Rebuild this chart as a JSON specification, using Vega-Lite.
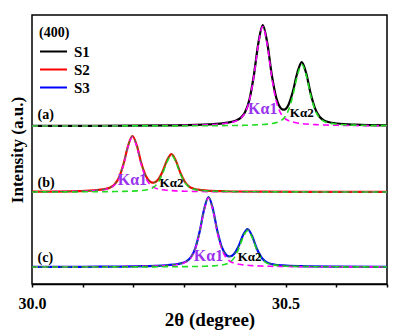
{
  "$schema": "https://vega.github.io/schema/vega-lite/v6.json",
  "width": 355,
  "height": 269,
  "autosize": {"type": "none"},
  "padding": {"left": 32, "top": 15, "right": 14, "bottom": 47},
  "background": "white",
  "config": {
    "view": {"stroke": "black", "strokeWidth": 1.5},
    "font": "Liberation Serif"
  },
  "datasets": {
    "curves": [
      {"x": 30.00, "s": "S1", "t": 158.11, "k1": 158.07, "k2": 158.03},
      {"x": 30.10, "s": "S1", "t": 158.17, "k1": 158.12, "k2": 158.05},
      {"x": 30.20, "s": "S1", "t": 158.32, "k1": 158.23, "k2": 158.09},
      {"x": 30.28, "s": "S1", "t": 158.64, "k1": 158.49, "k2": 158.15},
      {"x": 30.35, "s": "S1", "t": 159.62, "k1": 159.34, "k2": 158.28},
      {"x": 30.385, "s": "S1", "t": 161.35, "k1": 160.92, "k2": 158.43},
      {"x": 30.4025, "s": "S1", "t": 163.62, "k1": 163.07, "k2": 158.55},
      {"x": 30.4113, "s": "S1", "t": 166.14, "k1": 165.50, "k2": 158.63},
      {"x": 30.42, "s": "S1", "t": 171.78, "k1": 171.05, "k2": 158.73},
      {"x": 30.4288, "s": "S1", "t": 184.59, "k1": 183.73, "k2": 158.86},
      {"x": 30.4375, "s": "S1", "t": 208.72, "k1": 207.70, "k2": 159.02},
      {"x": 30.4463, "s": "S1", "t": 240.78, "k1": 239.55, "k2": 159.23},
      {"x": 30.455, "s": "S1", "t": 258.91, "k1": 257.40, "k2": 159.51},
      {"x": 30.4638, "s": "S1", "t": 241.44, "k1": 239.55, "k2": 159.89},
      {"x": 30.4725, "s": "S1", "t": 210.16, "k1": 207.70, "k2": 160.46},
      {"x": 30.4813, "s": "S1", "t": 187.09, "k1": 183.73, "k2": 161.36},
      {"x": 30.49, "s": "S1", "t": 176.17, "k1": 171.05, "k2": 163.12},
      {"x": 30.4935, "s": "S1", "t": 174.59, "k1": 168.25, "k2": 164.34},
      {"x": 30.497, "s": "S1", "t": 174.35, "k1": 166.27, "k2": 166.08},
      {"x": 30.5058, "s": "S1", "t": 179.35, "k1": 163.43, "k2": 173.92},
      {"x": 30.5145, "s": "S1", "t": 192.73, "k1": 161.98, "k2": 188.75},
      {"x": 30.5233, "s": "S1", "t": 211.51, "k1": 161.06, "k2": 208.45},
      {"x": 30.532, "s": "S1", "t": 221.95, "k1": 160.45, "k2": 219.50},
      {"x": 30.5408, "s": "S1", "t": 210.44, "k1": 159.99, "k2": 208.45},
      {"x": 30.5495, "s": "S1", "t": 190.40, "k1": 159.65, "k2": 188.75},
      {"x": 30.5583, "s": "S1", "t": 175.31, "k1": 159.39, "k2": 173.92},
      {"x": 30.567, "s": "S1", "t": 167.26, "k1": 159.18, "k2": 166.08},
      {"x": 30.5758, "s": "S1", "t": 163.67, "k1": 159.02, "k2": 162.64},
      {"x": 30.5845, "s": "S1", "t": 162.03, "k1": 158.90, "k2": 161.14},
      {"x": 30.602, "s": "S1", "t": 160.50, "k1": 158.70, "k2": 159.81},
      {"x": 30.637, "s": "S1", "t": 159.29, "k1": 158.46, "k2": 158.83},
      {"x": 30.70, "s": "S1", "t": 158.58, "k1": 158.25, "k2": 158.33},

      {"x": 30.00, "s": "S2", "t": 92.29, "k1": 92.21, "k2": 92.07},
      {"x": 30.023, "s": "S2", "t": 92.36, "k1": 92.27, "k2": 92.09},
      {"x": 30.093, "s": "S2", "t": 92.91, "k1": 92.74, "k2": 92.17},
      {"x": 30.128, "s": "S2", "t": 93.88, "k1": 93.62, "k2": 92.26},
      {"x": 30.1455, "s": "S2", "t": 95.14, "k1": 94.81, "k2": 92.33},
      {"x": 30.1543, "s": "S2", "t": 96.54, "k1": 96.16, "k2": 92.38},
      {"x": 30.163, "s": "S2", "t": 99.67, "k1": 99.23, "k2": 92.44},
      {"x": 30.1718, "s": "S2", "t": 106.78, "k1": 106.27, "k2": 92.51},
      {"x": 30.1805, "s": "S2", "t": 120.16, "k1": 119.55, "k2": 92.61},
      {"x": 30.1893, "s": "S2", "t": 137.93, "k1": 137.20, "k2": 92.73},
      {"x": 30.198, "s": "S2", "t": 148.00, "k1": 147.10, "k2": 92.90},
      {"x": 30.2068, "s": "S2", "t": 138.33, "k1": 137.20, "k2": 93.13},
      {"x": 30.2155, "s": "S2", "t": 121.01, "k1": 119.55, "k2": 93.46},
      {"x": 30.2243, "s": "S2", "t": 108.27, "k1": 106.27, "k2": 94.00},
      {"x": 30.233, "s": "S2", "t": 102.28, "k1": 99.23, "k2": 95.05},
      {"x": 30.2365, "s": "S2", "t": 101.45, "k1": 97.68, "k2": 95.77},
      {"x": 30.24, "s": "S2", "t": 101.39, "k1": 96.58, "k2": 96.81},
      {"x": 30.2488, "s": "S2", "t": 104.48, "k1": 95.01, "k2": 101.48},
      {"x": 30.2575, "s": "S2", "t": 112.50, "k1": 94.20, "k2": 110.30},
      {"x": 30.2663, "s": "S2", "t": 123.73, "k1": 93.70, "k2": 122.03},
      {"x": 30.275, "s": "S2", "t": 129.96, "k1": 93.36, "k2": 128.60},
      {"x": 30.2838, "s": "S2", "t": 123.13, "k1": 93.10, "k2": 122.03},
      {"x": 30.2925, "s": "S2", "t": 111.22, "k1": 92.92, "k2": 110.30},
      {"x": 30.3013, "s": "S2", "t": 102.25, "k1": 92.77, "k2": 101.48},
      {"x": 30.31, "s": "S2", "t": 97.46, "k1": 92.66, "k2": 96.81},
      {"x": 30.3188, "s": "S2", "t": 95.33, "k1": 92.57, "k2": 94.76},
      {"x": 30.3275, "s": "S2", "t": 94.36, "k1": 92.50, "k2": 93.87},
      {"x": 30.345, "s": "S2", "t": 93.46, "k1": 92.39, "k2": 93.08},
      {"x": 30.38, "s": "S2", "t": 92.75, "k1": 92.25, "k2": 92.49},
      {"x": 30.45, "s": "S2", "t": 92.31, "k1": 92.13, "k2": 92.18},
      {"x": 30.55, "s": "S2", "t": 92.14, "k1": 92.07, "k2": 92.07},
      {"x": 30.70, "s": "S2", "t": 92.07, "k1": 92.03, "k2": 92.03},

      {"x": 30.00, "s": "S3", "t": 17.12, "k1": 17.09, "k2": 17.03},
      {"x": 30.10, "s": "S3", "t": 17.22, "k1": 17.17, "k2": 17.05},
      {"x": 30.173, "s": "S3", "t": 17.43, "k1": 17.34, "k2": 17.09},
      {"x": 30.243, "s": "S3", "t": 18.10, "k1": 17.93, "k2": 17.17},
      {"x": 30.278, "s": "S3", "t": 19.29, "k1": 19.03, "k2": 17.25},
      {"x": 30.2955, "s": "S3", "t": 20.85, "k1": 20.52, "k2": 17.33},
      {"x": 30.3043, "s": "S3", "t": 22.59, "k1": 22.22, "k2": 17.37},
      {"x": 30.313, "s": "S3", "t": 26.51, "k1": 26.07, "k2": 17.43},
      {"x": 30.3218, "s": "S3", "t": 35.40, "k1": 34.89, "k2": 17.51},
      {"x": 30.3305, "s": "S3", "t": 52.15, "k1": 51.55, "k2": 17.60},
      {"x": 30.3393, "s": "S3", "t": 74.42, "k1": 73.69, "k2": 17.73},
      {"x": 30.348, "s": "S3", "t": 86.99, "k1": 86.10, "k2": 17.89},
      {"x": 30.3568, "s": "S3", "t": 74.81, "k1": 73.69, "k2": 18.12},
      {"x": 30.3655, "s": "S3", "t": 53.00, "k1": 51.55, "k2": 18.45},
      {"x": 30.3743, "s": "S3", "t": 36.87, "k1": 34.89, "k2": 18.98},
      {"x": 30.383, "s": "S3", "t": 29.09, "k1": 26.07, "k2": 20.02},
      {"x": 30.3865, "s": "S3", "t": 27.87, "k1": 24.12, "k2": 20.74},
      {"x": 30.39, "s": "S3", "t": 27.52, "k1": 22.75, "k2": 21.77},
      {"x": 30.3988, "s": "S3", "t": 30.17, "k1": 20.77, "k2": 26.40},
      {"x": 30.4075, "s": "S3", "t": 37.91, "k1": 19.76, "k2": 35.15},
      {"x": 30.4163, "s": "S3", "t": 48.91, "k1": 19.13, "k2": 46.78},
      {"x": 30.425, "s": "S3", "t": 55.00, "k1": 18.70, "k2": 53.30},
      {"x": 30.4338, "s": "S3", "t": 48.16, "k1": 18.38, "k2": 46.78},
      {"x": 30.4425, "s": "S3", "t": 36.30, "k1": 18.15, "k2": 35.15},
      {"x": 30.4513, "s": "S3", "t": 27.37, "k1": 17.97, "k2": 26.40},
      {"x": 30.46, "s": "S3", "t": 22.59, "k1": 17.82, "k2": 21.77},
      {"x": 30.4688, "s": "S3", "t": 20.45, "k1": 17.71, "k2": 19.74},
      {"x": 30.4775, "s": "S3", "t": 19.47, "k1": 17.62, "k2": 18.85},
      {"x": 30.495, "s": "S3", "t": 18.55, "k1": 17.48, "k2": 18.07},
      {"x": 30.53, "s": "S3", "t": 17.81, "k1": 17.32, "k2": 17.49},
      {"x": 30.60, "s": "S3", "t": 17.35, "k1": 17.17, "k2": 17.18},
      {"x": 30.70, "s": "S3", "t": 17.16, "k1": 17.09, "k2": 17.07}
    ],
    "panelLabels": [
      {"x": 30.011, "y": 169, "label": "(a)"},
      {"x": 30.011, "y": 101, "label": "(b)"},
      {"x": 30.011, "y": 26, "label": "(c)"}
    ],
    "ka1": [
      {"x": 30.455, "y": 175, "label": "Kα1"},
      {"x": 30.198, "y": 104, "label": "Kα1"},
      {"x": 30.348, "y": 28, "label": "Kα1"}
    ],
    "ka2": [
      {"x": 30.532, "y": 171, "label": "Kα2"},
      {"x": 30.275, "y": 101, "label": "Kα2"},
      {"x": 30.429, "y": 27, "label": "Kα2"}
    ]
  },
  "layer": [
    {
      "data": {"name": "curves"},
      "mark": {"type": "line", "strokeWidth": 2.2, "interpolate": "monotone"},
      "encoding": {
        "x": {
          "field": "x", "type": "quantitative",
          "scale": {"domain": [30, 30.7], "nice": false, "zero": false},
          "axis": {
            "title": "2θ (degree)",
            "values": [30, 30.1, 30.2, 30.3, 30.4, 30.5, 30.6, 30.7],
            "labelExpr": "datum.value == 30 || datum.value == 30.5 ? format(datum.value, '.1f') : ''",
            "grid": false,
            "domainColor": "black", "domainWidth": 1.5,
            "tickColor": "black", "tickSize": 3, "tickWidth": 1.5,
            "labelFont": "Liberation Serif", "labelFontWeight": "bold", "labelFontSize": 16, "labelColor": "black",
            "labelPadding": 8, "labelFlush": false,
            "titleFont": "Liberation Serif", "titleFontWeight": "bold", "titleFontSize": 19, "titleColor": "black",
            "titlePadding": -1
          }
        },
        "y": {
          "field": "t", "type": "quantitative",
          "scale": {"domain": [0, 269], "nice": false, "zero": false},
          "axis": {
            "title": "Intensity (a.u.)",
            "labels": false, "ticks": false, "grid": false, "domain": false,
            "titleFont": "Liberation Serif", "titleFontWeight": "bold", "titleFontSize": 17, "titleColor": "black",
            "titlePadding": 6
          }
        },
        "color": {
          "field": "s", "type": "nominal",
          "scale": {"domain": ["S1", "S2", "S3"], "range": ["#000000", "#FF0000", "#0000FF"]},
          "legend": {
            "title": "(400)",
            "orient": "none", "legendX": 7, "legendY": 11,
            "symbolType": "stroke", "symbolSize": 729, "symbolStrokeWidth": 2,
            "clipHeight": 15, "rowPadding": 2, "padding": 0,
            "titleFont": "Liberation Serif", "titleFontWeight": "bold", "titleFontSize": 14, "titleColor": "black", "titlePadding": 4,
            "labelFont": "Liberation Serif", "labelFontWeight": "bold", "labelFontSize": 15, "labelColor": "black", "labelOffset": 6
          }
        }
      }
    },
    {
      "data": {"name": "curves"},
      "mark": {"type": "line", "color": "#FF00FF", "strokeWidth": 1.6, "strokeDash": [6, 4], "interpolate": "monotone"},
      "encoding": {
        "x": {"field": "x", "type": "quantitative"},
        "y": {"field": "k1", "type": "quantitative"},
        "detail": {"field": "s"}
      }
    },
    {
      "data": {"name": "curves"},
      "mark": {"type": "line", "color": "#22DD22", "strokeWidth": 1.6, "strokeDash": [6, 4], "interpolate": "monotone"},
      "encoding": {
        "x": {"field": "x", "type": "quantitative"},
        "y": {"field": "k2", "type": "quantitative"},
        "detail": {"field": "s"}
      }
    },
    {
      "data": {"name": "curves"},
      "transform": [{"filter": "datum.s != 'S1'"}],
      "mark": {"type": "line", "color": "#229922", "strokeWidth": 1, "strokeDash": [4, 3], "interpolate": "monotone"},
      "encoding": {
        "x": {"field": "x", "type": "quantitative"},
        "y": {"field": "t", "type": "quantitative"},
        "detail": {"field": "s"}
      }
    },
    {
      "data": {"name": "panelLabels"},
      "mark": {"type": "text", "align": "left", "baseline": "middle", "font": "Liberation Serif", "fontWeight": "bold", "fontSize": 14, "color": "black"},
      "encoding": {
        "x": {"field": "x", "type": "quantitative"},
        "y": {"field": "y", "type": "quantitative"},
        "text": {"field": "label"}
      }
    },
    {
      "data": {"name": "ka1"},
      "mark": {"type": "text", "align": "center", "baseline": "middle", "font": "Liberation Serif", "fontWeight": "bold", "fontSize": 16, "color": "#9933EE"},
      "encoding": {
        "x": {"field": "x", "type": "quantitative"},
        "y": {"field": "y", "type": "quantitative"},
        "text": {"field": "label"}
      }
    },
    {
      "data": {"name": "ka2"},
      "mark": {"type": "text", "align": "center", "baseline": "middle", "font": "Liberation Serif", "fontWeight": "bold", "fontSize": 13, "color": "black"},
      "encoding": {
        "x": {"field": "x", "type": "quantitative"},
        "y": {"field": "y", "type": "quantitative"},
        "text": {"field": "label"}
      }
    }
  ]
}
